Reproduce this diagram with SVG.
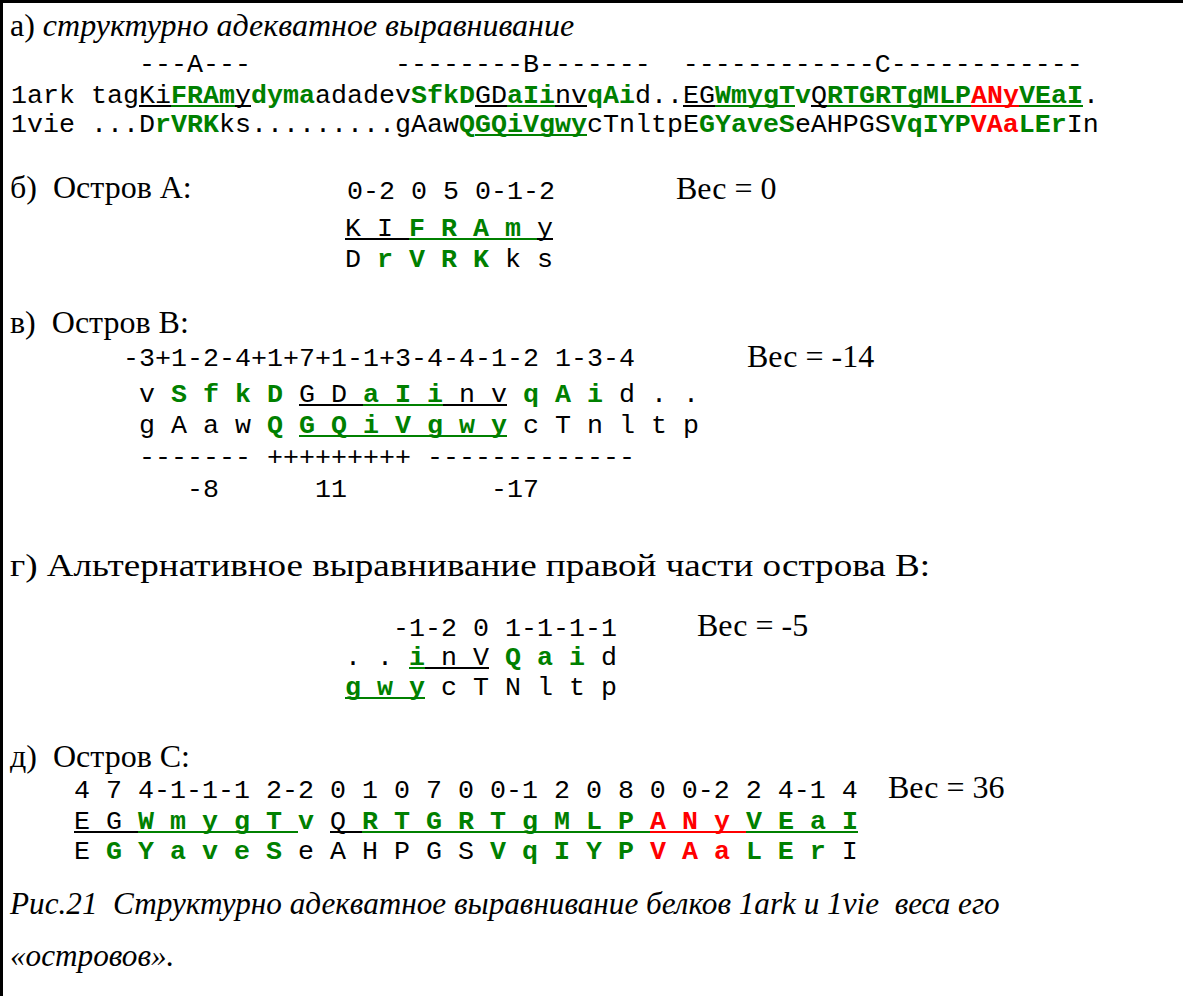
<svg xmlns="http://www.w3.org/2000/svg" width="1183" height="996" viewBox="0 0 1183 996" xml:space="preserve">
<style>
text{white-space:pre}
.s{font-family:"Liberation Serif","Times New Roman",serif;font-size:32px;fill:#000}
.i{font-style:italic}
.m{font-family:"Liberation Mono","Courier New",monospace;font-size:26.67px;fill:#000}
.g{fill:#008000;font-weight:bold}
.r{fill:#ff0000;font-weight:bold}
.uk{stroke:#000;stroke-width:2}
.ug{stroke:#008000;stroke-width:2}
.ur{stroke:#ff0000;stroke-width:2}
</style>
<rect width="1183" height="996" fill="#fff"/>
<path d="M1.5 996V1.5H1183" fill="none" stroke="#000" stroke-width="3"/>

<g id="alignment">
<text class="s" x="10" y="36">а) <tspan class="i">структурно адекватное выравнивание</tspan></text>
<text class="m" x="11" y="72">        ---A---         --------B-------  ------------C------------</text>
<text class="m" x="11" y="103">1ark tagKi<tspan class="g">FRAm</tspan>y<tspan class="g">dyma</tspan>adadev<tspan class="g">SfkD</tspan>GD<tspan class="g">aIi</tspan>nv<tspan class="g">qAi</tspan>d..EG<tspan class="g">WmygTv</tspan>Q<tspan class="g">RTGRTgMLP</tspan><tspan class="r">ANy</tspan><tspan class="g">VEaI</tspan>.</text>
<text class="m" x="11" y="132">1vie ...D<tspan class="g">rVRK</tspan>ks.........gAaw<tspan class="g">QGQiVgwy</tspan>cTnltpE<tspan class="g">GYaveS</tspan>eAHPGS<tspan class="g">VqIYP</tspan><tspan class="r">VAa</tspan><tspan class="g">LEr</tspan>In</text>
<g id="alignment-underlines">
<line class="uk" x1="139" y1="106" x2="171" y2="106"/>
<line class="ug" x1="171" y1="106" x2="235" y2="106"/>
<line class="uk" x1="235" y1="106" x2="251" y2="106"/>
<line class="uk" x1="475" y1="106" x2="507" y2="106"/>
<line class="ug" x1="507" y1="106" x2="555" y2="106"/>
<line class="uk" x1="555" y1="106" x2="587" y2="106"/>
<line class="uk" x1="683" y1="106" x2="715" y2="106"/>
<line class="ug" x1="715" y1="106" x2="795" y2="106"/>
<line class="uk" x1="811" y1="106" x2="827" y2="106"/>
<line class="ug" x1="827" y1="106" x2="971" y2="106"/>
<line class="ur" x1="971" y1="106" x2="1019" y2="106"/>
<line class="ug" x1="1019" y1="106" x2="1083" y2="106"/>
<line class="ug" x1="475" y1="135" x2="587" y2="135"/>
</g>
</g>

<g id="island-a">
<text class="s" x="10" y="198">б)  Остров А:</text>
<text class="m" x="347" y="199">0-2 0 5 0-1-2</text>
<text class="s" x="676" y="199">Вес = 0</text>
<text class="m" x="345" y="236">K I <tspan class="g">F R A m</tspan> y</text>
<text class="m" x="345" y="267">D <tspan class="g">r V R K</tspan> k s</text>
<line class="uk" x1="345" y1="239" x2="409" y2="239"/>
<line class="ug" x1="409" y1="239" x2="537" y2="239"/>
<line class="uk" x1="537" y1="239" x2="553" y2="239"/>
</g>

<g id="island-b">
<text class="s" x="10" y="333">в)  Остров В:</text>
<text class="m" x="123" y="366">-3+1-2-4+1+7+1-1+3-4-4-1-2 1-3-4</text>
<text class="s" x="747" y="367">Вес = -14</text>
<text class="m" x="139" y="402">v <tspan class="g">S f k D</tspan> G D <tspan class="g">a I i</tspan> n v <tspan class="g">q A i</tspan> d . .</text>
<text class="m" x="139" y="433">g A a w <tspan class="g">Q G Q i V g w y</tspan> c T n l t p</text>
<text class="m" x="139" y="465">------- +++++++++ -------------</text>
<text class="m" x="139" y="497">   -8      11         -17</text>
<line class="uk" x1="299" y1="405" x2="363" y2="405"/>
<line class="ug" x1="363" y1="405" x2="443" y2="405"/>
<line class="uk" x1="443" y1="405" x2="507" y2="405"/>
<line class="ug" x1="299" y1="436" x2="507" y2="436"/>
</g>

<g id="island-b-alt">
<text class="s" x="10" y="576" textLength="920" lengthAdjust="spacingAndGlyphs">г) Альтернативное выравнивание правой части острова В:</text>
<text class="m" x="345" y="636">   -1-2 0 1-1-1-1</text>
<text class="s" x="697" y="636">Вес = -5</text>
<text class="m" x="345" y="665">. . <tspan class="g">i</tspan> n V <tspan class="g">Q a i</tspan> d</text>
<text class="m" x="345" y="695"><tspan class="g">g w y</tspan> c T N l t p</text>
<line class="ug" x1="409" y1="668" x2="425" y2="668"/>
<line class="uk" x1="425" y1="668" x2="489" y2="668"/>
<line class="ug" x1="345" y1="698" x2="425" y2="698"/>
</g>

<g id="island-c">
<text class="s" x="10" y="767">д)  Остров С:</text>
<text class="m" x="74" y="798">4 7 4-1-1-1 2-2 0 1 0 7 0 0-1 2 0 8 0 0-2 2 4-1 4</text>
<text class="s" x="888" y="798">Вес = 36</text>
<text class="m" x="74" y="829">E G <tspan class="g">W m y g T v</tspan> Q <tspan class="g">R T G R T g M L P</tspan> <tspan class="r">A N y</tspan> <tspan class="g">V E a I</tspan></text>
<text class="m" x="74" y="859">E <tspan class="g">G Y a v e S</tspan> e A H P G S <tspan class="g">V q I Y P</tspan> <tspan class="r">V A a</tspan> <tspan class="g">L E r</tspan> I</text>
<line class="uk" x1="74" y1="832" x2="138" y2="832"/>
<line class="ug" x1="138" y1="832" x2="298" y2="832"/>
<line class="uk" x1="330" y1="832" x2="362" y2="832"/>
<line class="ug" x1="362" y1="832" x2="650" y2="832"/>
<line class="ur" x1="650" y1="832" x2="746" y2="832"/>
<line class="ug" x1="746" y1="832" x2="858" y2="832"/>
</g>

<g id="caption">
<text class="s i" x="10" y="914" style="font-size:31.2px">Рис.21  Структурно адекватное выравнивание белков 1ark и 1vie  веса его</text>
<text class="s i" x="10" y="966" style="font-size:31.2px">«островов».</text>
</g>
</svg>
